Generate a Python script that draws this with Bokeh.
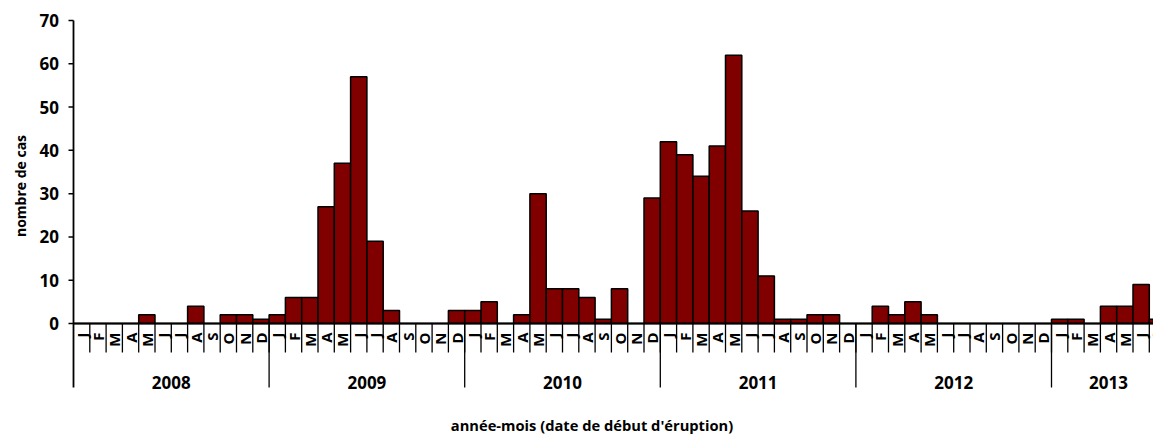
import numpy as np
from bokeh.plotting import figure
from bokeh.models import ColumnDataSource, Range1d
from bokeh.core.properties import value
from bokeh.embed import file_html
from bokeh.resources import INLINE

# ---- data ----
years = ["2008", "2009", "2010", "2011", "2012", "2013"]
month_letters = ["J", "F", "M", "A", "M", "J", "J", "A", "S", "O", "N", "D"]
cases_2008 = [0, 0, 0, 0, 2, 0, 0, 4, 0, 2, 2, 1]
cases_2009 = [2, 6, 6, 27, 37, 57, 19, 3, 0, 0, 0, 3]
cases_2010 = [3, 5, 0, 2, 30, 8, 8, 6, 1, 8, 0, 29]
cases_2011 = [42, 39, 34, 41, 62, 26, 11, 1, 1, 2, 2, 0]
cases_2012 = [0, 4, 2, 5, 2, 0, 0, 0, 0, 0, 0, 0]
cases_2013 = [1, 1, 0, 4, 4, 9, 1]
y_ticks = [0, 10, 20, 30, 40, 50, 60, 70]
x_title = "année-mois (date de début d'éruption)"
y_title = "nombre de cas"

counts = cases_2008 + cases_2009 + cases_2010 + cases_2011 + cases_2012 + cases_2013
n = len(counts)
idx = np.arange(n)
labels = [month_letters[i % 12] for i in range(n)]

FONT = value("Open Sans")
BAR = "#800000"

# layout helpers: plot origin (month 0, value 0) at (73px, 323px)
X0, Y0 = 73.0, 323.0
PX_PER_MONTH = 16.3
PX_PER_UNIT = (323 - 20) / 70.0
def xdata(px):
    return (px - X0) / PX_PER_MONTH
def ydata(px):
    return -(px - Y0) / PX_PER_UNIT

W, H = 1153, 435
p = figure(width=W, height=H, output_backend="svg", toolbar_location=None,
           x_range=Range1d(xdata(0), xdata(W)), y_range=Range1d(ydata(H), ydata(0)),
           x_axis_location=None, y_axis_location=None,
           min_border_left=0, min_border_right=0, min_border_top=0, min_border_bottom=0)
p.outline_line_color = None
p.grid.visible = False
p.background_fill_color = "white"
p.border_fill_color = "white"

# bars
src = ColumnDataSource(dict(x=idx + 0.5, top=counts))
p.vbar(x="x", top="top", bottom=0, width=1.0, source=src,
       fill_color=BAR, line_color="black", line_width=1.5)

# value axis: line, ticks, labels, title
p.segment(x0=[0], y0=[ydata(387)], x1=[0], y1=[max(y_ticks)], line_color="black", line_width=1.8)
yt = np.array(y_ticks, dtype=float)
p.segment(x0=np.full(len(yt), xdata(68)), y0=yt, x1=np.zeros(len(yt)), y1=yt,
          line_color="black", line_width=1.5)
tsrc = ColumnDataSource(dict(x=np.full(len(yt), xdata(58.5)), y=yt,
                             t=[str(v) for v in y_ticks]))
p.text(x="x", y="y", text="t", source=tsrc, text_align="right", text_baseline="middle",
       text_font=FONT, text_font_style="bold", text_font_size="17px", text_color="black")
p.text(x=[xdata(19.5)], y=[ydata(185.5)], text=[y_title], angle=np.pi / 2,
       text_align="center", text_baseline="middle", text_font=FONT,
       text_font_style="bold", text_font_size="14px", text_color="black")

# category axis line at zero
p.segment(x0=[0], y0=[0], x1=[n], y1=[0], line_color="black", line_width=2)

# month boundary ticks
mb = np.arange(1, n + 1)
p.segment(x0=mb, y0=np.zeros(len(mb)), x1=mb, y1=np.full(len(mb), ydata(352)),
          line_color="black", line_width=1.3)
# year boundary lines
yb = np.arange(12, n + 1, 12)
p.segment(x0=yb, y0=np.zeros(len(yb)), x1=yb, y1=np.full(len(yb), ydata(387)),
          line_color="black", line_width=1.3)

# month labels (rotated)
msrc = ColumnDataSource(dict(x=idx + 0.5, y=np.full(n, ydata(332)), t=labels))
p.text(x="x", y="y", text="t", source=msrc, angle=np.pi / 2,
       text_align="right", text_baseline="middle", text_font=FONT,
       text_font_style="bold", text_font_size="15px", text_color="black")

# year labels
ystarts = np.arange(0, n, 12)
yends = np.minimum(ystarts + 12, n)
ycent = (ystarts + yends) / 2.0
ysrc = ColumnDataSource(dict(x=ycent, y=np.full(len(years), ydata(382)), t=years))
p.text(x="x", y="y", text="t", source=ysrc, text_align="center",
       text_baseline="alphabetic", text_font=FONT, text_font_style="bold",
       text_font_size="17px", text_color="black")

# category axis title
p.text(x=[xdata(591.5)], y=[ydata(424.5)], text=[x_title], text_align="center",
       text_baseline="middle", text_font=FONT, text_font_style="bold",
       text_font_size="14.7px", text_color="black")

open("out.html", "w").write(file_html(p, INLINE))
